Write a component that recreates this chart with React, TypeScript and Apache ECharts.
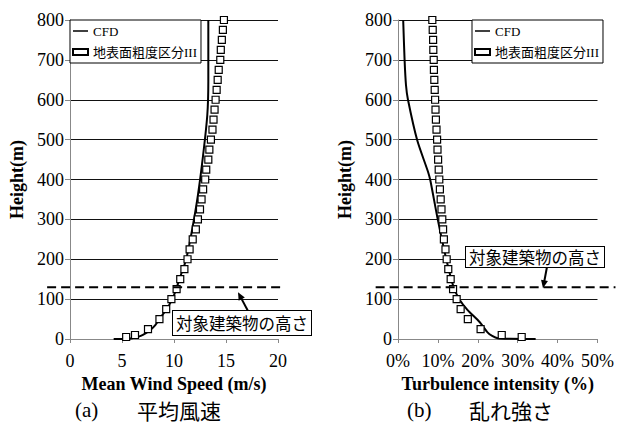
import React, { useEffect, useRef } from "react";
import * as echarts from "echarts";

const heights = [5, 10, 25, 50, 75, 100, 125, 150, 175, 200, 225, 250, 275, 300, 325, 350, 375, 400, 425, 450, 475, 500, 525, 550, 575, 600, 625, 650, 675, 700, 725, 750, 775, 800];
const jisWind = [5.4, 6.25, 7.5, 8.6, 9.25, 9.75, 10.25, 10.6, 11.0, 11.3, 11.5, 11.8, 12.1, 12.3, 12.5, 12.65, 12.8, 13.0, 13.1, 13.3, 13.4, 13.55, 13.7, 13.8, 13.9, 14.0, 14.1, 14.2, 14.3, 14.45, 14.5, 14.6, 14.7, 14.8];
const jisTurb = [31, 26, 20.7, 17.5, 15.7, 14.7, 13.8, 13.2, 12.6, 12.2, 11.9, 11.5, 11.3, 11.1, 10.9, 10.7, 10.5, 10.35, 10.2, 10.05, 9.9, 9.8, 9.65, 9.5, 9.4, 9.3, 9.2, 9.1, 9.0, 8.95, 8.85, 8.8, 8.7, 8.6];

const cfdWindSpeed = [4.2, 5.0, 5.8, 6.2, 6.8, 7.3, 7.7, 8.2, 8.65, 9.05, 9.45, 10.0, 10.6, 11.15, 11.7, 12.3, 12.8, 13.2, 13.3, 13.3];
const cfdWindHeight = [0, 0.3, 1, 3, 8, 15, 22, 35, 52, 66, 81, 110, 156, 198, 268, 361, 461, 561, 645, 800];
const cfdTurbValue = [34.5, 28, 25, 23.6, 22.5, 20.5, 17.4, 15.4, 13.9, 12.1, 10.0, 8.1, 7.5, 4.8, 2.5, 2.0, 1.65, 1.3];
const cfdTurbHeight = [0, 0.5, 2, 8, 16, 42, 73, 99, 131, 200, 298, 398, 420, 499, 600, 637, 700, 800];

const buildingHeight = 130;
const legendNames = ["CFD", "地表面粗度区分III"];
const yTitle = "Height(m)";
const xTitleA = "Mean Wind Speed (m/s)";
const xTitleB = "Turbulence intensity (%)";
const captionA = ["(a)　", "平均風速"];
const captionB = ["(b)　", "乱れ強さ"];
const noteText = "対象建築物の高さ";

const SERIF = "Liberation Serif, Times New Roman, Noto Sans CJK JP, serif";
const SANS_JP = "Noto Sans CJK JP, sans-serif";

function arrow(x1: number, y1: number, x2: number, y2: number) {
  const dx = x2 - x1;
  const dy = y2 - y1;
  const len = Math.sqrt(dx * dx + dy * dy);
  const ux = dx / len;
  const uy = dy / len;
  const nx = -uy;
  const ny = ux;
  const hl = 8;
  const hw = 3.5;
  return [
    {
      type: "line",
      shape: { x1, y1, x2: x2 - ux * (hl - 1), y2: y2 - uy * (hl - 1) },
      style: { stroke: "#000", lineWidth: 2 },
      z: 100,
    },
    {
      type: "polygon",
      shape: {
        points: [
          [x2, y2],
          [x2 - ux * hl + nx * hw, y2 - uy * hl + ny * hw],
          [x2 - ux * hl - nx * hw, y2 - uy * hl - ny * hw],
        ],
      },
      style: { fill: "#000" },
      z: 100,
    },
  ];
}

function caption(parts: string[], left: number) {
  return {
    text: `{p|${parts[0]}}{c|${parts[1]}}`,
    left,
    top: 399,
    padding: 0,
    textStyle: {
      fontWeight: "normal",
      rich: {
        p: { fontFamily: SERIF, fontSize: 21, fontWeight: "normal", lineHeight: 22, width: 62, color: "#000" },
        c: { fontFamily: SANS_JP, fontSize: 21, fontWeight: "normal", lineHeight: 22, color: "#000" },
      },
    },
  };
}

export default function App() {
  const ref = useRef<HTMLDivElement>(null);
  useEffect(() => {
    if (!ref.current) return;
    const chart = echarts.init(ref.current, null, { renderer: "svg" });
    const yAxisBase = (gridIndex: number) => ({
      type: "value",
      gridIndex,
      min: 0,
      max: 800,
      interval: 100,
      name: yTitle,
      nameLocation: "middle",
      nameGap: 44,
      nameTextStyle: { fontFamily: SERIF, fontSize: 18, fontWeight: "bold", color: "#000" },
      axisLine: { show: true, lineStyle: { color: "#888", width: 1 } },
      axisTick: { show: true, length: 5, lineStyle: { color: "#888" } },
      axisLabel: { fontFamily: SERIF, fontSize: 18, color: "#000", margin: 6 },
      splitLine: { show: true, lineStyle: { color: "#111", width: 1 } },
    });
    const xAxisBase = (gridIndex: number, max: number, interval: number, name: string, fmt?: string) => ({
      type: "value",
      gridIndex,
      min: 0,
      max,
      interval,
      name,
      nameLocation: "middle",
      nameGap: 33,
      nameTextStyle: { fontFamily: SERIF, fontSize: 18, fontWeight: "bold", color: "#000" },
      axisLine: { show: true, onZero: false, lineStyle: { color: "#888", width: 1 } },
      axisTick: { show: true, length: 4, lineStyle: { color: "#888" } },
      axisLabel: { fontFamily: SERIF, fontSize: 18, color: "#000", margin: 13, formatter: fmt },
      splitLine: { show: false },
    });
    const legendBase = (left: number) => ({
      left,
      top: 20,
      orient: "vertical",
      data: [
        { name: legendNames[0], icon: "path://M0,0 H10 V1 H0 Z" },
        { name: legendNames[1], icon: "rect" },
      ],
      itemWidth: 15,
      itemHeight: 6,
      itemGap: 7,
      padding: [4, 4, 4, 2],
      borderColor: "#000",
      borderWidth: 1,
      borderRadius: 0,
      backgroundColor: "#fff",
      selectedMode: false,
      textStyle: { fontFamily: SERIF, fontSize: 13, lineHeight: 14, color: "#000" },
    });
    const lineSeries = (idx: number, xs: number[], ys: number[]) => ({
      type: "line",
      name: legendNames[0],
      xAxisIndex: idx,
      yAxisIndex: idx,
      data: xs.map((x, i) => [x, ys[i]]),
      symbol: "none",
      smooth: 0.25,
      lineStyle: { color: "#000", width: 2 },
      itemStyle: { color: "#000" },
      z: 2,
    });
    const scatterSeries = (idx: number, xs: number[]) => ({
      type: "scatter",
      name: legendNames[1],
      xAxisIndex: idx,
      yAxisIndex: idx,
      data: heights.map((h, i) => [xs[i], h]),
      symbol: "rect",
      symbolSize: 7,
      itemStyle: { color: "#fff", borderColor: "#000", borderWidth: 1.2, opacity: 1 },
      z: 3,
    });
    chart.setOption({
      animation: false,
      backgroundColor: "#fff",
      grid: [
        { left: 70, top: 20, width: 208, height: 319 },
        { left: 398, top: 20, width: 202, height: 319 },
      ],
      xAxis: [
        xAxisBase(0, 20, 5, xTitleA),
        xAxisBase(1, 50, 10, xTitleB, "{value}%"),
      ],
      yAxis: [yAxisBase(0), yAxisBase(1)],
      legend: [legendBase(70), legendBase(472)],
      title: [caption(captionA, 75), caption(captionB, 407)],
      series: [
        lineSeries(0, cfdWindSpeed, cfdWindHeight),
        scatterSeries(0, jisWind),
        lineSeries(1, cfdTurbValue, cfdTurbHeight),
        scatterSeries(1, jisTurb),
      ],
    });

    const pA0 = chart.convertToPixel({ gridIndex: 0 }, [-2.2, buildingHeight]) as number[];
    const pA1 = chart.convertToPixel({ gridIndex: 0 }, [20.4, buildingHeight]) as number[];
    const pB0 = chart.convertToPixel({ gridIndex: 1 }, [-5.6, buildingHeight]) as number[];
    const pB1 = chart.convertToPixel({ gridIndex: 1 }, [54.5, buildingHeight]) as number[];
    const ly = pA0[1];
    const ry = pB0[1];
    const dashStyle = { stroke: "#000", lineWidth: 2, lineDash: [9, 5] };
    chart.setOption({
      graphic: [
        { type: "line", shape: { x1: pA0[0], y1: ly, x2: pA1[0], y2: ly }, style: dashStyle, z: 50 },
        { type: "line", shape: { x1: pB0[0], y1: ry, x2: pB1[0], y2: ry }, style: dashStyle, z: 50 },
        ...arrow(248, 311, 238, ly + 5),
        ...arrow(547, 267, 543, ry + 1),
        {
          type: "text",
          x: 173,
          y: 311,
          z: 101,
          style: {
            text: noteText,
            font: `16.5px ${SANS_JP}`,
            fill: "#000",
            align: "left",
            verticalAlign: "top",
            lineHeight: 18,
            backgroundColor: "#fff",
            borderColor: "#000",
            borderWidth: 1,
            padding: [3, 3, 3, 3],
          },
        },
        {
          type: "text",
          x: 466,
          y: 247,
          z: 101,
          style: {
            text: noteText,
            font: `16.5px ${SANS_JP}`,
            fill: "#000",
            align: "left",
            verticalAlign: "top",
            lineHeight: 17,
            backgroundColor: "#fff",
            borderColor: "#000",
            borderWidth: 1,
            padding: [1.5, 3, 1.5, 3],
          },
        },
      ],
    });
    return () => chart.dispose();
  }, []);
  return (
    <div
      ref={ref}
      style={{ position: "absolute", left: 0, top: 0, width: 617, height: 425, background: "#fff" }}
    />
  );
}
